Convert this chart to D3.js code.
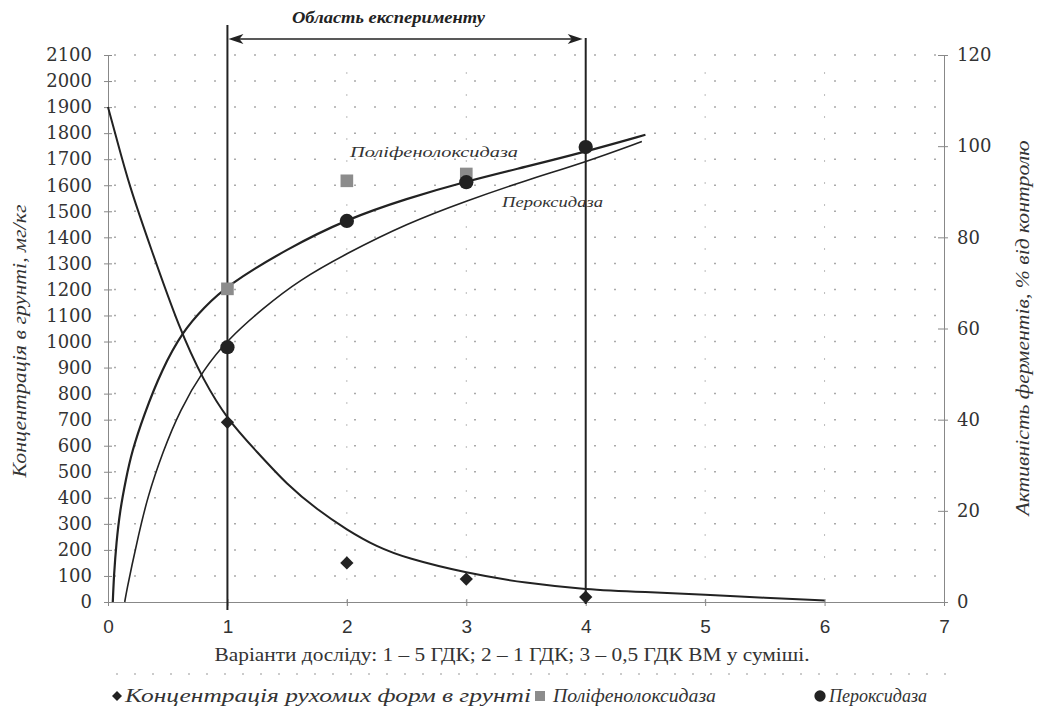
<!DOCTYPE html>
<html>
<head>
  <meta charset="utf-8">
  <title>ferments</title>
  <style>
    body { margin: 0; background: #fff; }
  </style>
</head>
<body>
  <div id="chart"></div>
  <script src="https://cdn.jsdelivr.net/npm/d3@7/dist/d3.min.js"></script>
  <script>
  // точки досліду
  var variants = [1, 2, 3, 4];
  var concValues = [690, 150, 88, 19];            // мг/кг, ліва вісь
  var polyVariants = [1, 2, 3];
  var polyValues = [68.7, 92.4, 93.9];            // % від контролю
  var peroxValues = [55.9, 83.6, 92.1, 99.8];     // % від контролю

  // лінії тренду
  var concCurveX = [0, 0.06, 0.18, 0.35, 0.6, 0.8, 1, 1.25, 1.5, 1.75, 2, 2.25, 2.5, 3, 3.5, 4, 4.5, 5, 5.5, 6];
  var concCurveY = [1900, 1800, 1595, 1370, 1045, 850, 700, 575, 450, 355, 277, 212, 168, 111, 72, 48, 38, 28, 16, 6];
  var upperCurveX = [0.04, 0.05, 0.07, 0.1, 0.15, 0.2, 0.3, 0.45, 0.63, 0.8, 1, 1.5, 2, 2.5, 3, 3.5, 4, 4.5];
  var upperCurveY = [0, 6, 13, 20, 27, 33, 41, 51, 59.5, 64.5, 69.5, 77.5, 84, 88.5, 92.3, 95.5, 98.8, 102.5];
  var lowerCurveX = [0.14, 0.16, 0.2, 0.25, 0.33, 0.46, 0.6, 0.8, 1, 1.3, 1.6, 2, 2.5, 3, 3.5, 4, 4.47];
  var lowerCurveY = [0, 3, 8, 14, 23, 33, 42, 51, 57.5, 64.5, 70.6, 76.5, 83, 88, 92.5, 96.5, 101];

  // осі
  var xTicks = [0, 1, 2, 3, 4, 5, 6, 7];
  var leftTicks = d3.range(0, 2101, 100);
  var rightTicks = [0, 20, 40, 60, 80, 100, 120];

  var w = 1045, h = 706;
  var svg = d3.select("#chart").append("svg")
    .attr("width", w)
    .attr("height", h);

  var x = d3.scaleLinear().domain([0, 7]).range([108, 944]);
  var yL = d3.scaleLinear().domain([0, 2100]).range([602, 55]);
  var yR = d3.scaleLinear().domain([0, 120]).range([602, 55]);

  var ink = "#222";
  var serif = "'Liberation Serif', 'DejaVu Serif', serif";
  var fmt = d3.format("d");

  // сітка (пунктир)
  svg.append("g").selectAll("line")
    .data(leftTicks.filter(function(d){ return d > 0; }))
    .enter().append("line")
    .attr("x1", x(0) + 6).attr("x2", x(7))
    .attr("y1", function(d){ return yL(d); })
    .attr("y2", function(d){ return yL(d); })
    .attr("stroke", "#aaa")
    .attr("stroke-width", 1.5)
    .attr("stroke-dasharray", "2,18");
  svg.append("g").selectAll("line")
    .data([2, 3, 5, 6])
    .enter().append("line")
    .attr("x1", function(d){ return x(d); })
    .attr("x2", function(d){ return x(d); })
    .attr("y1", yL(0)).attr("y2", yL(2100))
    .attr("stroke", "#bbb")
    .attr("stroke-width", 1)
    .attr("stroke-dasharray", "2,20");

  // ліва вісь
  var gl = svg.append("g")
    .attr("transform", "translate(" + x(0) + ",0)")
    .call(d3.axisLeft(yL).tickValues(leftTicks).tickFormat(fmt).tickSizeInner(4).tickSizeOuter(0).tickPadding(12));
  gl.selectAll(".tick line").attr("x1", 4);
  gl.selectAll("line, path").attr("stroke", "#888");
  gl.selectAll("text")
    .attr("font-family", "'DejaVu Serif', serif")
    .attr("font-size", "18px")
    .attr("fill", "#333");

  // права вісь
  var gr = svg.append("g")
    .attr("transform", "translate(" + x(7) + ",0)")
    .call(d3.axisRight(yR).tickValues(rightTicks).tickFormat(fmt).tickSizeInner(4).tickSizeOuter(0).tickPadding(9));
  gr.selectAll(".tick line").attr("x1", -6);
  gr.selectAll("line, path").attr("stroke", "#888");
  gr.selectAll("text")
    .attr("font-family", "'DejaVu Serif', serif")
    .attr("font-size", "18px")
    .attr("fill", "#333");

  // нижня вісь
  var gb = svg.append("g")
    .attr("transform", "translate(0," + yL(0) + ")")
    .call(d3.axisBottom(x).tickValues(xTicks).tickFormat(fmt).tickSizeInner(4).tickSizeOuter(0).tickPadding(14));
  gb.selectAll(".tick line").attr("y1", -3);
  gb.selectAll("line, path").attr("stroke", "#888");
  gb.selectAll("text")
    .attr("font-family", "'Liberation Sans', Arial, sans-serif")
    .attr("font-size", "19px")
    .attr("fill", "#333");

  // область експерименту
  svg.append("line")
    .attr("x1", x(1)).attr("x2", x(1))
    .attr("y1", 25).attr("y2", 610)
    .attr("stroke", ink).attr("stroke-width", 2);
  svg.append("line")
    .attr("x1", x(4)).attr("x2", x(4))
    .attr("y1", 38).attr("y2", 604)
    .attr("stroke", ink).attr("stroke-width", 2);
  var ay = 39;
  svg.append("line")
    .attr("x1", x(1) + 8).attr("x2", x(4) - 10)
    .attr("y1", ay).attr("y2", ay)
    .attr("stroke", ink).attr("stroke-width", 1.5);
  svg.append("path")
    .attr("d", "M" + (x(1) + 1) + "," + ay + " l15,-5 l-4,5 l4,5 z")
    .attr("fill", ink);
  svg.append("path")
    .attr("d", "M" + (x(4) - 3) + "," + ay + " l-15,-5 l4,5 l-4,5 z")
    .attr("fill", ink);
  svg.append("text")
    .attr("x", 292).attr("y", 23)
    .attr("font-family", serif)
    .attr("font-style", "italic")
    .attr("font-weight", "bold")
    .attr("font-size", "16px")
    .attr("fill", ink)
    .attr("textLength", 193).attr("lengthAdjust", "spacingAndGlyphs")
    .text("Область експерименту");

  // криві
  function toPts(xs, ys) {
    return xs.map(function(d, i){ return [d, ys[i]]; });
  }
  var lineL = d3.line()
    .x(function(d){ return x(d[0]); })
    .y(function(d){ return yL(d[1]); })
    .curve(d3.curveBasis);
  var lineR = d3.line()
    .x(function(d){ return x(d[0]); })
    .y(function(d){ return yR(d[1]); })
    .curve(d3.curveBasis);

  svg.append("path")
    .attr("d", lineL(toPts(concCurveX, concCurveY)))
    .attr("fill", "none").attr("stroke", ink).attr("stroke-width", 2);
  svg.append("path")
    .attr("d", lineR(toPts(upperCurveX, upperCurveY)))
    .attr("fill", "none").attr("stroke", ink).attr("stroke-width", 2.2);
  svg.append("path")
    .attr("d", lineR(toPts(lowerCurveX, lowerCurveY)))
    .attr("fill", "none").attr("stroke", ink).attr("stroke-width", 1.6);

  // маркери
  var diamond = d3.symbol().type(d3.symbolSquare).size(88);
  var square = d3.symbol().type(d3.symbolSquare).size(160);
  var circle = d3.symbol().type(d3.symbolCircle).size(160);

  svg.append("g").selectAll("path")
    .data(polyVariants)
    .enter().append("path")
    .attr("d", square)
    .attr("transform", function(d, i){ return "translate(" + x(d) + "," + yR(polyValues[i]) + ")"; })
    .attr("fill", "#8c8c8c");
  svg.append("g").selectAll("path")
    .data(variants)
    .enter().append("path")
    .attr("d", circle)
    .attr("transform", function(d, i){ return "translate(" + x(d) + "," + yR(peroxValues[i]) + ")"; })
    .attr("fill", ink);
  svg.append("g").selectAll("path")
    .data(variants)
    .enter().append("path")
    .attr("d", diamond)
    .attr("transform", function(d, i){ return "translate(" + x(d) + "," + yL(concValues[i]) + ") rotate(45)"; })
    .attr("fill", ink);

  // підписи кривих
  svg.append("text")
    .attr("x", 350).attr("y", 157)
    .attr("font-family", serif).attr("font-style", "italic")
    .attr("font-size", "15px").attr("fill", "#333")
    .attr("textLength", 168).attr("lengthAdjust", "spacingAndGlyphs")
    .text("Поліфенолоксидаза");
  svg.append("text")
    .attr("x", 502).attr("y", 207)
    .attr("font-family", serif).attr("font-style", "italic")
    .attr("font-size", "15px").attr("fill", "#333")
    .attr("textLength", 101).attr("lengthAdjust", "spacingAndGlyphs")
    .text("Пероксидаза");

  // назви осей
  svg.append("text")
    .attr("transform", "translate(26,341) rotate(-90)")
    .attr("text-anchor", "middle")
    .attr("font-family", serif).attr("font-style", "italic")
    .attr("font-size", "19px").attr("fill", "#333")
    .attr("textLength", 273).attr("lengthAdjust", "spacingAndGlyphs")
    .text("Концентрація в грунті, мг/кг");
  svg.append("text")
    .attr("transform", "translate(1029,328) rotate(-90)")
    .attr("text-anchor", "middle")
    .attr("font-family", serif).attr("font-style", "italic")
    .attr("font-size", "19px").attr("fill", "#333")
    .attr("textLength", 375).attr("lengthAdjust", "spacingAndGlyphs")
    .text("Активність ферментів, % від контролю");
  svg.append("text")
    .attr("x", 512).attr("y", 661)
    .attr("text-anchor", "middle")
    .attr("font-family", serif)
    .attr("font-size", "18px").attr("fill", "#333")
    .attr("textLength", 595).attr("lengthAdjust", "spacingAndGlyphs")
    .text("Варіанти досліду: 1 – 5 ГДК; 2 – 1 ГДК; 3 – 0,5 ГДК ВМ у суміші.");

  // легенда
  svg.append("line")
    .attr("x1", 116).attr("x2", 946)
    .attr("y1", 674).attr("y2", 674)
    .attr("stroke", "#bbb").attr("stroke-width", 1.5)
    .attr("stroke-dasharray", "2,16");
  var ly = 696;
  svg.append("path")
    .attr("d", d3.symbol().type(d3.symbolSquare).size(50))
    .attr("transform", "translate(117," + ly + ") rotate(45)")
    .attr("fill", ink);
  svg.append("path")
    .attr("d", d3.symbol().type(d3.symbolSquare).size(100))
    .attr("transform", "translate(540," + ly + ")")
    .attr("fill", "#8c8c8c");
  svg.append("path")
    .attr("d", d3.symbol().type(d3.symbolCircle).size(100))
    .attr("transform", "translate(820," + ly + ")")
    .attr("fill", ink);
  var legend = [
    {t: "Концентрація рухомих форм в грунті", x: 125, len: 406},
    {t: "Поліфенолоксидаза", x: 553, len: 163},
    {t: "Пероксидаза", x: 829, len: 98}
  ];
  svg.append("g").selectAll("text")
    .data(legend)
    .enter().append("text")
    .attr("x", function(d){ return d.x; })
    .attr("y", ly + 6)
    .attr("font-family", serif).attr("font-style", "italic")
    .attr("font-size", "18px").attr("fill", "#333")
    .attr("textLength", function(d){ return d.len; })
    .attr("lengthAdjust", "spacingAndGlyphs")
    .text(function(d){ return d.t; });
  </script>
</body>
</html>
